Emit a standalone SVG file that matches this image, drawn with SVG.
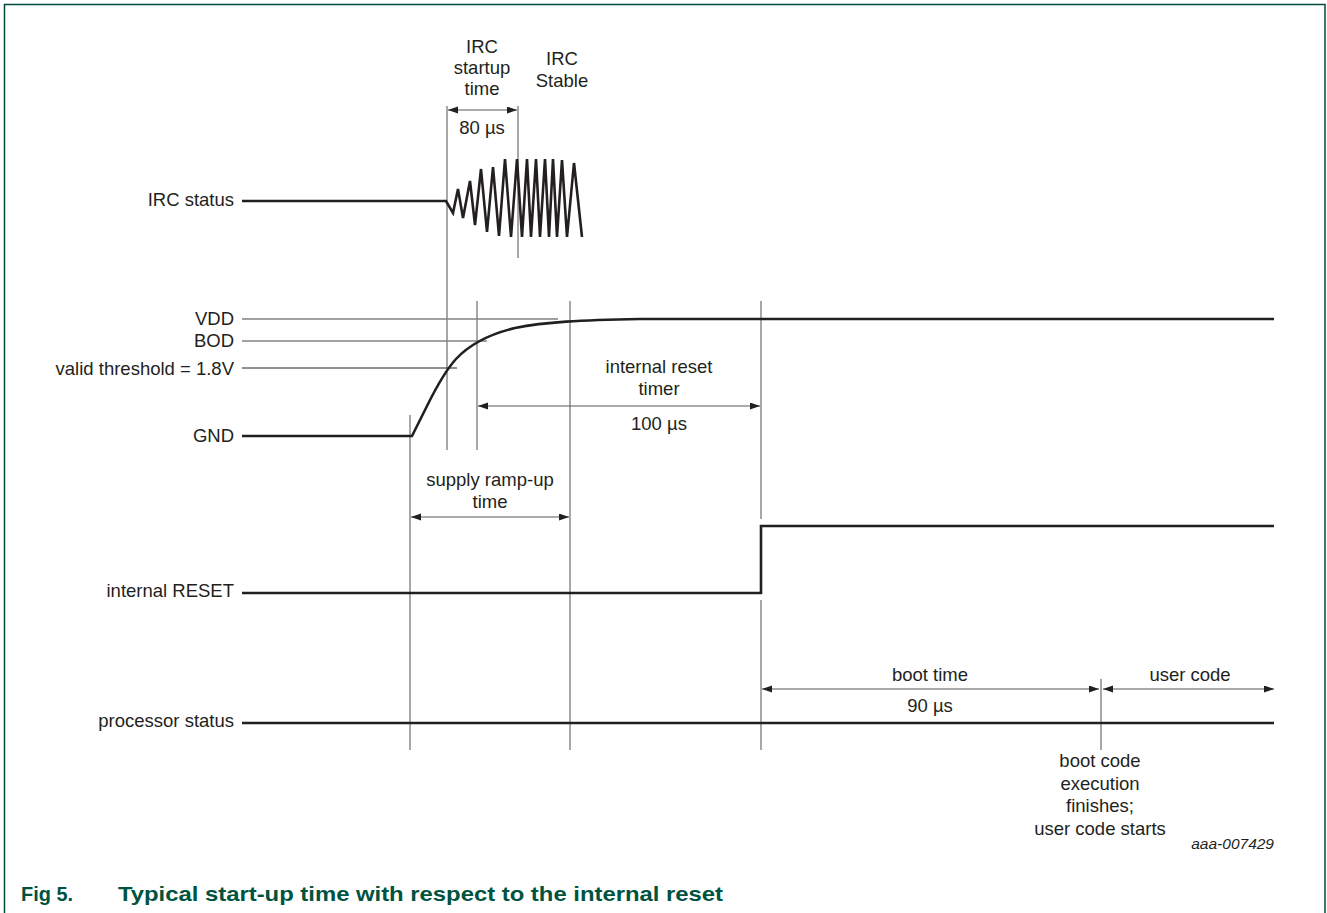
<svg xmlns="http://www.w3.org/2000/svg" width="1327" height="913" viewBox="0 0 1327 913">
<defs>
<marker id="ah" markerUnits="userSpaceOnUse" markerWidth="11" markerHeight="8" refX="10" refY="3.5" orient="auto-start-reverse"><path d="M0,0 L10,3.5 L0,7 z" fill="#231f20"/></marker>
<style>
.lbl{font-family:"Liberation Sans",Arial,sans-serif;font-size:18.5px;fill:#231f20}
.end{text-anchor:end}
.mid{text-anchor:middle}
.sig{fill:none;stroke:#231f20;stroke-width:2.6}
.guide{fill:none;stroke:#6d6e71;stroke-width:1.2}
.lvl{fill:none;stroke:#808285;stroke-width:1.3}
.thr{fill:none;stroke:#231f20;stroke-width:1}
.dim{fill:none;stroke:#58595b;stroke-width:1.2;marker-start:url(#ah);marker-end:url(#ah)}
.cap{font-family:"Liberation Sans",Arial,sans-serif;font-size:21px;font-weight:bold;fill:#00533f}
</style>
</defs>
<rect width="1327" height="913" fill="#ffffff"/>
<path d="M4.5,913 V4.5 H1325 V913" fill="none" stroke="#004b3c" stroke-width="1.5"/>

<g id="guides">
<line class="guide" x1="447" y1="106" x2="447" y2="450"/>
<line class="guide" x1="518" y1="106" x2="518" y2="258"/>
<line class="guide" x1="477" y1="301" x2="477" y2="450"/>
<line class="guide" x1="570" y1="301" x2="570" y2="750"/>
<line class="guide" x1="410" y1="415" x2="410" y2="750"/>
<line class="guide" x1="761" y1="301" x2="761" y2="519"/>
<line class="guide" x1="761" y1="600" x2="761" y2="750"/>
<line class="guide" x1="1101" y1="679" x2="1101" y2="750"/>
</g>

<g id="irc-status">
<text class="lbl end" x="234" y="206">IRC status</text>
<polyline class="sig" stroke-linejoin="miter" points="242,201 446,201 453,213 458,189 463,218 470,181 475,225 481,169 487,232 493,167 499,236 505,159 511,237 517,159 522,237 527,159 531,237 536,159 540,237 545,159 549,237 553,159 557,237 562,160 567,237 574,163 582,237"/>
</g>

<g id="supply">
<text class="lbl end" x="234" y="325">VDD</text>
<text class="lbl end" x="234" y="347">BOD</text>
<text class="lbl end" x="234" y="375">valid threshold = 1.8V</text>
<text class="lbl end" x="234" y="442">GND</text>
<line class="lvl" x1="242" y1="319" x2="558" y2="319"/>
<line class="lvl" x1="242" y1="341" x2="487" y2="341"/>
<line class="thr" x1="242" y1="368" x2="457" y2="368"/>
<path class="sig" d="M242,436 H412 L428,404 C438,384 446,370 456,359 C470,344 490,334 515,328 C545,322 580,320 640,319 H1274"/>
</g>

<g id="internal-reset">
<text class="lbl end" x="234" y="597">internal RESET</text>
<path class="sig" d="M242,593 H761 V526 H1274"/>
</g>

<g id="processor-status">
<text class="lbl end" x="234" y="727">processor status</text>
<line class="sig" x1="242" y1="723" x2="1274" y2="723"/>
</g>

<g id="connectors">
<line class="dim" x1="448" y1="110" x2="517" y2="110"/>
<line class="dim" x1="478" y1="406" x2="760" y2="406"/>
<line class="dim" x1="411" y1="517" x2="569" y2="517"/>
<line class="dim" x1="762" y1="689" x2="1099" y2="689"/>
<line class="dim" x1="1103" y1="689" x2="1274" y2="689"/>
</g>

<g id="annotations">
<text class="lbl mid" x="482" y="53">IRC</text>
<text class="lbl mid" x="482" y="74">startup</text>
<text class="lbl mid" x="482" y="95">time</text>
<text class="lbl mid" x="482" y="134">80 µs</text>
<text class="lbl mid" x="562" y="65">IRC</text>
<text class="lbl mid" x="562" y="87">Stable</text>
<text class="lbl mid" x="659" y="373">internal reset</text>
<text class="lbl mid" x="659" y="395">timer</text>
<text class="lbl mid" x="659" y="430">100 µs</text>
<text class="lbl mid" x="490" y="486">supply ramp-up</text>
<text class="lbl mid" x="490" y="508">time</text>
<text class="lbl mid" x="930" y="681">boot time</text>
<text class="lbl mid" x="930" y="712">90 µs</text>
<text class="lbl mid" x="1190" y="681">user code</text>
<text class="lbl mid" x="1100" y="767">boot code</text>
<text class="lbl mid" x="1100" y="790">execution</text>
<text class="lbl mid" x="1100" y="812">finishes;</text>
<text class="lbl mid" x="1100" y="835">user code starts</text>
<text class="lbl end" x="1274" y="849" style="font-size:15.5px;font-style:italic">aaa-007429</text>
</g>

<g id="caption">
<text class="cap" x="21" y="901" textLength="52" lengthAdjust="spacingAndGlyphs">Fig 5.</text>
<text class="cap" x="118" y="901" textLength="605" lengthAdjust="spacingAndGlyphs">Typical start-up time with respect to the internal reset</text>
</g>
</svg>
